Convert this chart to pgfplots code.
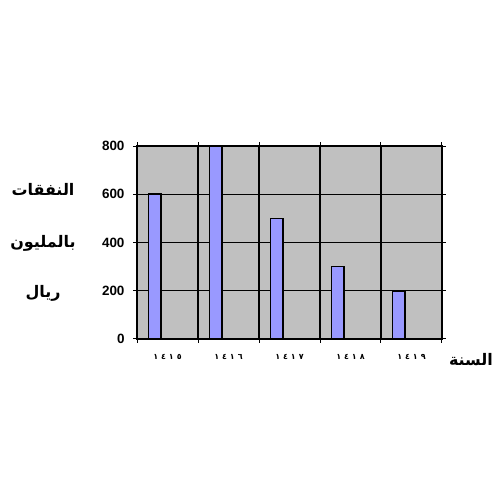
\documentclass[border=0pt]{standalone}
\usepackage{pgfplots}
\pgfplotsset{compat=1.18}
\usepackage{fontspec}
\setmainfont{Liberation Sans}
\newfontfamily\arabicfont[Script=Arabic]{DejaVu Sans}
\newfontfamily\digitfont{DejaVu Sans}
\TeXXeTstate=1

\definecolor{barblue}{HTML}{9999FF}
\definecolor{plotgray}{HTML}{C0C0C0}
\newcommand{\yr}[4]{#1\hspace{3bp}#2\hspace{3bp}#3\hspace{3bp}#4}

\begin{document}
\begin{tikzpicture}
  \path[use as bounding box] (0,0) rectangle (500bp,500bp);
  \begin{axis}[
    at={(137bp,161bp)}, anchor=south west,
    scale only axis,
    width=305bp, height=193bp,
    xmin=0, xmax=5,
    ymin=0, ymax=800,
    xtick={0,1,2,3,4,5},
    xticklabels={},
    ytick={0,200,400,600,800},
    /pgf/number format/assume math mode=true,
    extra x ticks={0.5,1.5,2.5,3.5,4.5},
    extra x tick labels={\yr{١}{٤}{١}{٥},\yr{١}{٤}{١}{٦},\yr{١}{٤}{١}{٧},\yr{١}{٤}{١}{٨},\yr{١}{٤}{١}{٩}},
    extra x tick style={
      major tick length=0pt,
      grid=none,
      ticklabel style={font=\digitfont\bfseries\fontsize{8}{8}\selectfont, yshift=-12bp},
    },
    grid=major,
    grid style={black, line width=1.3bp},
    axis line style={black, line width=1.3bp},
    axis background/.style={fill=plotgray},
    tick align=outside,
    major tick length=4bp,
    tick style={black, line width=1bp},
    yticklabel style={font=\bfseries\fontsize{13.5}{13.5}\selectfont, xshift=-5bp},
  ]
    \addplot[ybar, bar width=12.5bp, fill=barblue, draw=black, line width=1.6bp]
      coordinates {(0.29,600) (1.29,800) (2.29,500) (3.29,300) (4.29,200)};
  \end{axis}
  \begin{scope}[every node/.style={font=\arabicfont\bfseries\fontsize{16}{16}\selectfont}]
    \node at (43bp,311bp) {\beginR النفقات\endR};
    \node at (43bp,257bp) {\beginR بالمليون\endR};
    \node at (43bp,207bp) {\beginR ريال\endR};
    \node at (471bp,140bp) {\beginR السنة\endR};
  \end{scope}
\end{tikzpicture}
\end{document}
